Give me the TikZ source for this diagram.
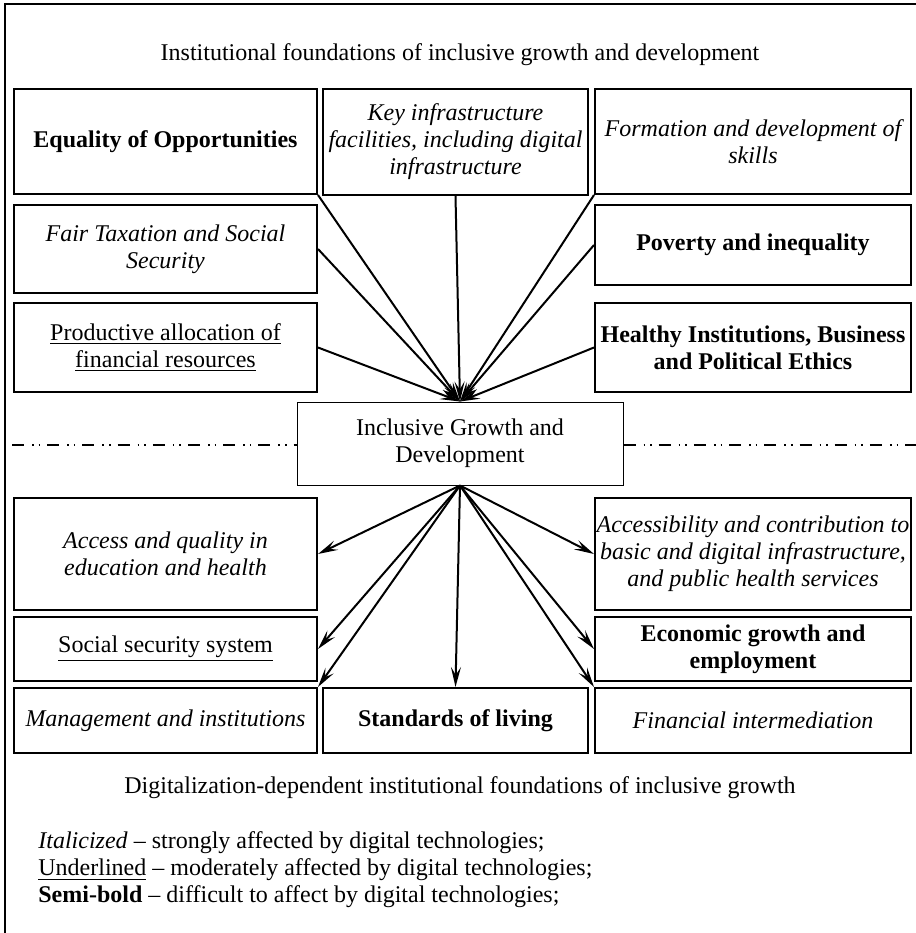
\documentclass[tikz,border=0pt]{standalone}
\usepackage{fontspec}
\setmainfont{Liberation Serif}
\usetikzlibrary{arrows.meta}

\newcommand{\fsz}{\fontsize{12}{13.5}\selectfont}

\begin{document}
\begin{tikzpicture}[x=0.5pt, y=-0.5pt, >={Stealth[length=10pt, width=5pt, inset=4pt]}, font=\fsz,
    box/.style={draw, line width=1pt, align=center, inner sep=0.5pt},
    lcol/.style={box, minimum width=151.5pt},
    mcol/.style={box, minimum width=132.5pt},
    rcol/.style={box, minimum width=158pt},
    it/.style={font=\fsz\itshape},
    bf/.style={font=\fsz\bfseries},
    link/.style={line width=1pt},
    divider/.style={line width=1pt, dash pattern=on 6pt off 4pt on 0.8pt off 2.5pt on 0.8pt off 3.5pt}]
    \useasboundingbox (0,0) rectangle (916,933);
    \draw [line width=1pt] (916,4) -- (5,4) -- (5,933);

    % Headings
    \node (head)    at (460,55)  {Institutional foundations of inclusive growth and development};
    \node (caption) at (460,788) {Digitalization-dependent institutional foundations of inclusive growth};

    % Nodes above the centre
    \node [lcol, bf, minimum height=52.5pt]   (equal)   at (165.5,141.5) {Equality of Opportunities};
    \node [mcol, it, minimum height=53pt]     (infra)   at (455.5,142)   {Key infrastructure\\ facilities, including digital\\ infrastructure};
    \node [rcol, it, minimum height=52.5pt]   (skills)  at (753,141.5)   {Formation and development of\\ skills};
    \node [lcol, it, minimum height=44pt]     (tax)     at (165.5,249)   {Fair Taxation and Social\\ Security};
    \node [rcol, bf, minimum height=40pt]     (poverty) at (753,245)     {Poverty and inequality};
    \node [lcol, minimum height=44.5pt]       (alloc)   at (165.5,347.5) {\underline{Productive allocation of}\\ \underline{financial resources}};
    \node [rcol, bf, minimum height=44.5pt]   (ethics)  at (753,347.5)   {Healthy Institutions, Business\\ and Political Ethics};

    % Centre
    \node [draw, line width=0.5pt, align=center, minimum width=163pt, minimum height=41.5pt] (incl) at (460,443.5) {Inclusive Growth and\\ Development};
    \coordinate (dl) at (12,445);
    \coordinate (dr) at (916,445);
    \draw [divider] (dl) -- (dl -| incl.west);
    \draw [divider] (dl -| incl.east) -- (dr);

    % Nodes below the centre
    \node [lcol, it, minimum height=56pt]     (edu)     at (165.5,554)   {Access and quality in\\ education and health};
    \node [rcol, it, minimum height=56pt]     (access)  at (753,554)     {Accessibility and contribution to\\ basic and digital infrastructure,\\ and public health services};
    \node [lcol, minimum height=32pt]         (social)  at (165.5,649)   {\underline{Social security system}};
    \node [rcol, bf, minimum height=32pt]     (econ)    at (753,649)     {Economic growth and\\ employment};
    \node [lcol, it, minimum height=32.5pt]   (manage)  at (165.5,720.5) {Management and institutions};
    \node [mcol, bf, minimum height=32.5pt]   (living)  at (455.5,720.5) {Standards of living};
    \node [rcol, it, minimum height=32.5pt]   (finint)  at (753,720.5)   {Financial intermediation};

    % Legend
    \node [anchor=west, align=left, inner sep=1pt] (legend) at (36,870)
        {\textit{Italicized} -- strongly affected by digital technologies;\\
         \underline{Underlined} -- moderately affected by digital technologies;\\
         \textbf{Semi-bold} -- difficult to affect by digital technologies;};

    % Paths in
    \path [->, link] (equal.south east) edge (incl.north);
    \path [->, link] (infra.south)      edge (incl.north);
    \path [->, link] (skills.south west) edge (incl.north);
    \path [->, link] (tax.east)         edge (incl.north);
    \path [->, link] (poverty.west)     edge (incl.north);
    \path [->, link] (alloc.east)       edge (incl.north);
    \path [->, link] (ethics.west)      edge (incl.north);

    % Paths out
    \path [->, link] (incl.south) edge (edu.east);
    \path [->, link] (incl.south) edge (social.east);
    \path [->, link] (incl.south) edge (manage.north east);
    \path [->, link] (incl.south) edge (living.north);
    \path [->, link] (incl.south) edge (access.west);
    \path [->, link] (incl.south) edge (econ.west);
    \path [->, link] (incl.south) edge (finint.north west);

\end{tikzpicture}
\end{document}
